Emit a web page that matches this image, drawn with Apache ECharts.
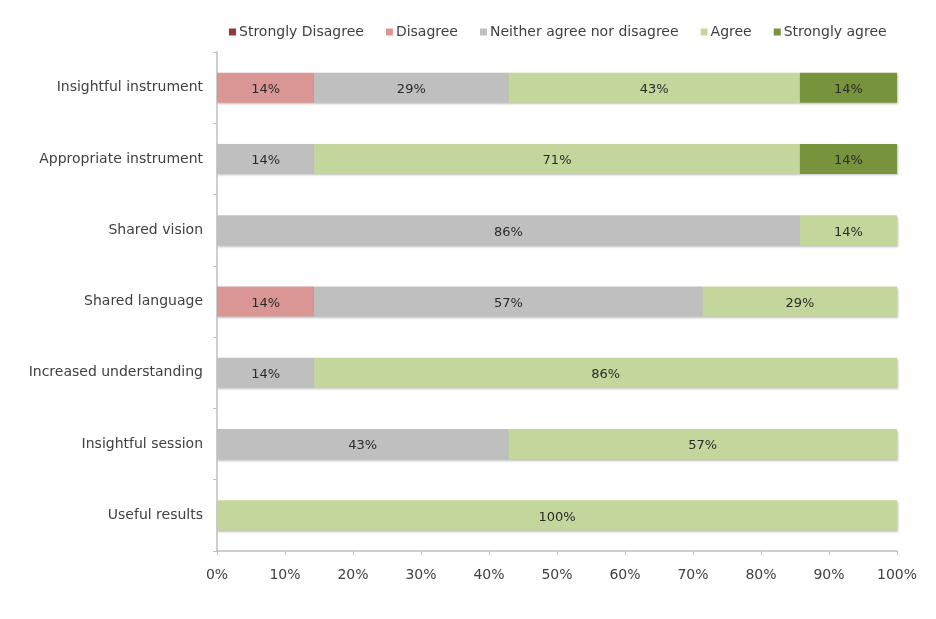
<!DOCTYPE html>
<html><head><meta charset="utf-8">
<script src="https://cdn.jsdelivr.net/npm/echarts@6/dist/echarts.min.js"></script>
<style>html,body{margin:0;padding:0;background:#fff}#c{width:936px;height:619px}</style>
</head><body><div id="c"></div>
<script>
var categories = ["Insightful instrument","Appropriate instrument","Shared vision","Shared language","Increased understanding","Insightful session","Useful results"];
var seriesNames = ["Strongly Disagree","Disagree","Neither agree nor disagree","Agree","Strongly agree"];
var stronglyDisagree = [null,null,null,null,null,null,null];
var disagree = [14.29,null,null,14.29,null,null,null];
var neither = [28.57,14.29,85.71,57.14,14.29,42.86,null];
var agree = [42.86,71.43,14.29,28.57,85.71,57.14,100];
var stronglyAgree = [14.29,14.29,null,null,null,null,null];
var xTicks = [0,10,20,30,40,50,60,70,80,90,100];
var colors = ["#953735","#D99694","#BFBFBF","#C3D69B","#77933C"];

var FONT = "'DejaVu Sans', sans-serif";
var data = [stronglyDisagree, disagree, neither, agree, stronglyAgree];
var chart = echarts.init(document.getElementById('c'));
chart.setOption({
  animation:false,
  textStyle:{fontFamily:FONT},
  color: colors,
  legend:{
    data: seriesNames, left:224, top:20, icon:'rect', itemWidth:7, itemHeight:7, itemGap:22,
    textStyle:{fontFamily:FONT, fontSize:14, color:'#404040', padding:[0,0,0,-2]}
  },
  grid:{left:217, right:39, top:52, bottom:68, containLabel:false},
  xAxis:{
    type:'value', min:xTicks[0], max:xTicks[xTicks.length-1], interval:10,
    axisLine:{show:true, lineStyle:{color:'#BFBFBF', width:1.5}},
    axisTick:{show:true, length:4, lineStyle:{color:'#BFBFBF'}},
    splitLine:{show:false},
    axisLabel:{formatter:'{value}%', fontFamily:FONT, fontSize:14, color:'#404040', margin:17}
  },
  yAxis:{
    type:'category', data:categories, inverse:true,
    axisLine:{show:true, lineStyle:{color:'#BFBFBF', width:1.5}},
    axisTick:{show:true, length:4, lineStyle:{color:'#BFBFBF'}},
    axisLabel:{fontFamily:FONT, fontSize:14, color:'#404040', margin:14, padding:[9,0,0,0]}
  },
  series: seriesNames.map(function(n,i){
    return {
      name:n, type:'bar', stack:'all', data:data[i], barWidth:30,
      itemStyle:{color:colors[i], shadowColor:'rgba(0,0,0,0.25)', shadowBlur:2, shadowOffsetX:1, shadowOffsetY:1.5},
      label:{show:true, position:'inside', offset:[0,2], fontFamily:FONT, fontSize:13, color:'#2b2b2b',
        formatter:function(p){ return p.value==null? '' : Math.round(p.value)+'%'; }}
    };
  })
});
</script></body></html>
